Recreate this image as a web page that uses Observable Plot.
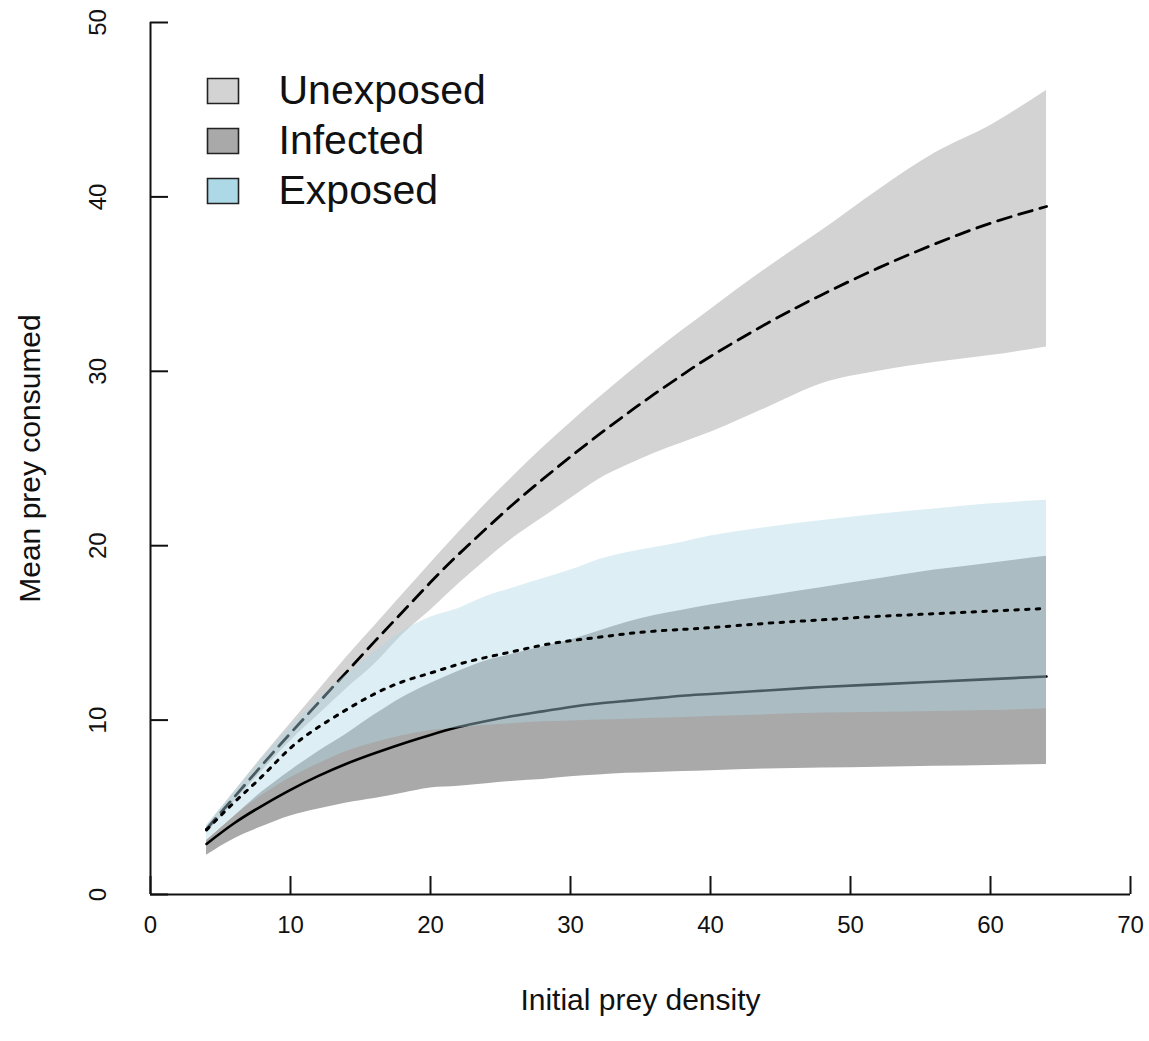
<!DOCTYPE html>
<html>
<head>
<meta charset="utf-8">
<script src="https://cdn.jsdelivr.net/npm/d3@7"></script>
<script src="https://cdn.jsdelivr.net/npm/@observablehq/plot@0.6"></script>
<style>
  html, body { margin: 0; padding: 0; background: #fff; }
  #chart svg { display: block; }
</style>
</head>
<body>
<div id="chart"></div>
<script>
// Initial prey density (x)
const density = [4,6,8,10,12,14,16,18,20,22,24,26,28,30,32,34,36,38,40,44,48,52,56,60,64];

// Unexposed (dashed)
const unexposedMean  = [3.75,5.6,7.45,9.25,11.0,12.75,14.5,16.2,17.9,19.5,21.0,22.45,23.8,25.1,26.35,27.55,28.7,29.8,30.85,32.73,34.41,35.93,37.29,38.49,39.45];
const unexposedUpper = [3.9,5.9,7.9,9.8,11.7,13.6,15.4,17.2,19.0,20.75,22.45,24.05,25.6,27.05,28.45,29.8,31.1,32.35,33.55,35.9,38.1,40.4,42.5,44.1,46.1];
const unexposedLower = [3.5,5.3,7.1,8.8,10.3,11.8,13.2,14.9,16.3,17.8,19.2,20.5,21.6,22.7,23.8,24.6,25.3,25.9,26.5,27.9,29.3,30.0,30.5,30.9,31.4];

// Infected (solid)
const infectedMean  = [2.9,4.1,5.1,6.0,6.8,7.5,8.1,8.65,9.15,9.6,9.95,10.25,10.5,10.75,10.95,11.1,11.25,11.4,11.5,11.7,11.9,12.05,12.2,12.35,12.5];
const infectedUpper = [3.1,4.5,5.9,7.1,8.2,9.2,10.3,11.3,12.1,12.8,13.4,13.8,14.2,14.6,15.1,15.6,16.0,16.3,16.6,17.1,17.6,18.1,18.6,19.0,19.4];
const infectedLower = [2.25,3.2,3.9,4.5,4.9,5.25,5.5,5.8,6.1,6.2,6.35,6.5,6.6,6.75,6.85,6.95,7.0,7.05,7.1,7.2,7.25,7.3,7.35,7.4,7.45];

// Exposed (dotted)
const exposedMean  = [3.7,5.3,6.8,8.4,9.6,10.6,11.5,12.2,12.7,13.2,13.6,13.95,14.3,14.55,14.75,14.95,15.1,15.2,15.3,15.55,15.75,15.95,16.1,16.25,16.4];
const exposedUpper = [3.95,5.9,7.8,9.6,11.2,12.6,13.9,15.1,15.9,16.4,17.1,17.6,18.1,18.6,19.2,19.6,19.9,20.2,20.55,21.05,21.45,21.8,22.1,22.4,22.6];
const exposedLower = [3.1,4.5,5.7,6.7,7.5,8.2,8.7,9.1,9.4,9.55,9.7,9.8,9.9,9.95,10.0,10.05,10.1,10.15,10.2,10.3,10.4,10.45,10.5,10.55,10.65];

// Axes
const xTicks = [0,10,20,30,40,50,60,70];
const yTicks = [0,10,20,30,40,50];

// Legend
const legendLabels = ["Unexposed","Infected","Exposed"];
const legendColors = ["#d3d3d3","#a9a9a9","#add8e6"];

const rows = (mean, lo, hi) => density.map((x, i) => ({x, m: mean[i], lo: lo[i], hi: hi[i]}));
const unexposed = rows(unexposedMean, unexposedLower, unexposedUpper);
const infected  = rows(infectedMean, infectedLower, infectedUpper);
const exposed   = rows(exposedMean, exposedLower, exposedUpper);

const W = 1149, H = 1041;
const mL = 150, mR = 19, mT = 22, mB = 147;
const frameW = W - mL - mR, frameH = H - mT - mB;
const boxSymbol = { draw(ctx) { ctx.rect(-15.5, -12.5, 31, 25); } };

const legendMarks = legendLabels.flatMap((label, i) => [
  Plot.dot([label], {frameAnchor: "top-left", dx: 72.5, dy: 68.5 + 50 * i, symbol: boxSymbol, r: 10,
                     fill: legendColors[i], stroke: "#222", strokeWidth: 1.6}),
  Plot.text([label], {frameAnchor: "top-left", dx: 128, dy: 68.5 + 50 * i, text: d => d,
                      textAnchor: "start", lineAnchor: "middle", fontSize: 41, fill: "#111"})
]);

const chart = Plot.plot({
  width: W,
  height: H,
  marginLeft: mL, marginRight: mR, marginTop: mT, marginBottom: mB,
  style: { fontFamily: "'Liberation Sans', Arial, Helvetica, sans-serif", background: "#fff" },
  x: { domain: [0, 70], axis: null },
  y: { domain: [0, 50], axis: null },
  marks: [
    Plot.areaY(unexposed, {x: "x", y1: "lo", y2: "hi", fill: "#d3d3d3", curve: "monotone-x"}),
    Plot.line(unexposed, {x: "x", y: "m", stroke: "#000", strokeWidth: 2.8, strokeDasharray: "14,8", curve: "natural"}),
    Plot.areaY(infected, {x: "x", y1: "lo", y2: "hi", fill: "#a9a9a9", curve: "monotone-x"}),
    Plot.line(infected, {x: "x", y: "m", stroke: "#000", strokeWidth: 2.6, curve: "natural"}),
    Plot.areaY(exposed, {x: "x", y1: "lo", y2: "hi", fill: "#add8e6", fillOpacity: 0.42, curve: "monotone-x"}),
    Plot.line(exposed, {x: "x", y: "m", stroke: "#000", strokeWidth: 3, strokeDasharray: "3.5,7.2", curve: "natural"}),
    // axis lines
    Plot.ruleY([0], {x1: 0, x2: 70, stroke: "#111", strokeWidth: 2}),
    Plot.ruleX([0], {y1: 0, y2: 50, stroke: "#111", strokeWidth: 2}),
    // inward ticks
    Plot.tickX(xTicks, {x: d => d, insetTop: frameH - 18, stroke: "#111", strokeWidth: 2}),
    Plot.tickY(yTicks, {y: d => d, insetRight: frameW - 18, stroke: "#111", strokeWidth: 2}),
    // tick labels
    Plot.text(xTicks, {x: d => d, y: 0, dy: 31, text: d => String(d), fontSize: 24, fill: "#111"}),
    Plot.text(yTicks, {x: 0, y: d => d, dx: -52, rotate: -90, text: d => String(d), fontSize: 24, fill: "#111"}),
    // axis titles
    Plot.text(["Initial prey density"], {frameAnchor: "bottom", dy: 106, text: d => d, textAnchor: "middle", lineAnchor: "middle", fontSize: 30, fill: "#111"}),
    Plot.text(["Mean prey consumed"], {frameAnchor: "left", dx: -120, rotate: -90, text: d => d, textAnchor: "middle", lineAnchor: "middle", fontSize: 30, fill: "#111"}),
    ...legendMarks
  ]
});
document.getElementById("chart").appendChild(chart);
</script>
</body>
</html>
